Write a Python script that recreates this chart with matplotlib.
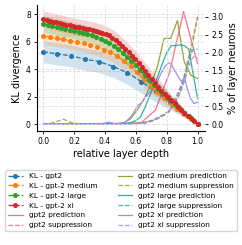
import numpy as np
import matplotlib
matplotlib.use('Agg')
import matplotlib.pyplot as plt

# KL divergence per layer (mean and spread)
kl_gpt2 = [5.28, 5.11, 4.97, 4.73, 4.55, 4.20, 3.75, 3.10, 2.40, 1.65, 0.85, 0.02]
kl_gpt2_err = [0.8, 0.8, 0.8, 0.8, 0.8, 0.8, 0.85, 0.85, 0.75, 0.55, 0.3, 0.02]

kl_medium = [6.38, 6.31, 6.24, 6.16, 6.07, 5.97, 5.87, 5.75, 5.60, 5.43, 5.22, 4.95,
             4.62, 4.22, 3.80, 3.32, 2.80, 2.35, 1.92, 1.52, 1.12, 0.74, 0.36, 0.02]
kl_medium_err = [0.6, 0.6, 0.6, 0.6, 0.6, 0.6, 0.6, 0.6, 0.6, 0.6, 0.6, 0.6,
                 0.6, 0.6, 0.6, 0.6, 0.55, 0.5, 0.45, 0.4, 0.3, 0.2, 0.1, 0.02]

kl_large = [7.30, 7.23, 7.16, 7.09, 7.02, 6.95, 6.88, 6.80, 6.72, 6.64, 6.55, 6.45,
            6.33, 6.20, 6.05, 5.88, 5.68, 5.45, 5.20, 4.92, 4.62, 4.30, 3.95, 3.58,
            3.20, 2.86, 2.55, 2.26, 1.98, 1.70, 1.42, 1.14, 0.86, 0.58, 0.30, 0.05]
kl_large_err = [0.6, 0.6, 0.6, 0.6, 0.6, 0.6, 0.6, 0.6, 0.6, 0.6, 0.6, 0.6,
                0.6, 0.6, 0.6, 0.6, 0.6, 0.6, 0.6, 0.6, 0.6, 0.6, 0.6, 0.6,
                0.6, 0.6, 0.55, 0.5, 0.45, 0.4, 0.35, 0.3, 0.25, 0.18, 0.1, 0.02]

kl_xl = [7.62, 7.58, 7.52, 7.46, 7.40, 7.35, 7.30, 7.24, 7.18, 7.13, 7.08, 7.04,
         6.99, 6.95, 6.90, 6.85, 6.80, 6.72, 6.64, 6.55, 6.45, 6.30, 6.12, 5.92,
         5.70, 5.48, 5.25, 4.98, 4.75, 4.48, 4.18, 3.88, 3.58, 3.28, 3.00, 2.72,
         2.46, 2.22, 1.98, 1.74, 1.52, 1.30, 1.08, 0.86, 0.64, 0.44, 0.22, 0.02]
kl_xl_err = [0.6, 0.6, 0.6, 0.6, 0.6, 0.6, 0.6, 0.6, 0.6, 0.6, 0.6, 0.6,
             0.6, 0.6, 0.6, 0.6, 0.6, 0.6, 0.6, 0.6, 0.6, 0.6, 0.6, 0.6,
             0.6, 0.6, 0.6, 0.6, 0.6, 0.6, 0.6, 0.6, 0.6, 0.6, 0.6, 0.6,
             0.55, 0.5, 0.46, 0.42, 0.38, 0.33, 0.28, 0.23, 0.18, 0.12, 0.07, 0.02]

# % of layer neurons: prediction / suppression
pred_gpt2 = [0.0, 0.0, 0.0, 0.0, 0.0, 0.01, 0.02, 0.05, 0.4, 1.45, 3.15, 1.7]
supp_gpt2 = [0.0, 0.0, 0.0, 0.0, 0.0, 0.0, 0.01, 0.03, 0.12, 0.35, 1.25, 3.0]

pred_medium = [0.0, 0.0, 0.0, 0.01, 0.01, 0.0, 0.0, 0.0, 0.0, 0.01, 0.02, 0.02,
               0.05, 0.15, 0.4, 0.7, 1.1, 1.6, 2.4, 2.4, 2.9, 1.75, 1.37, 1.28]
supp_medium = [0.0, 0.02, 0.08, 0.14, 0.06, 0.02, 0.01, 0.01, 0.01, 0.01, 0.01, 0.01,
               0.01, 0.01, 0.02, 0.05, 0.1, 0.18, 0.28, 0.42, 0.7, 1.2, 2.0, 3.0]

pred_large = [0.0, 0.0, 0.0, 0.0, 0.01, 0.01, 0.01, 0.01, 0.01, 0.01, 0.01, 0.02,
              0.02, 0.02, 0.01, 0.02, 0.02, 0.02, 0.02, 0.03, 0.05, 0.1, 0.2, 0.45,
              0.75, 1.05, 1.35, 1.7, 2.0, 2.2, 2.2, 2.22, 2.2, 2.1, 1.4, 0.72]
supp_large = [0.0, 0.0, 0.0, 0.0, 0.0, 0.0, 0.0, 0.0, 0.01, 0.01, 0.01, 0.01,
              0.01, 0.01, 0.01, 0.01, 0.01, 0.01, 0.01, 0.01, 0.02, 0.02, 0.03, 0.05,
              0.08, 0.12, 0.18, 0.22, 0.3, 0.45, 0.65, 0.95, 1.35, 1.8, 2.1, 2.1]

pred_xl = [0.0, 0.0, 0.0, 0.01, 0.01, 0.01, 0.01, 0.01, 0.01, 0.01, 0.01, 0.01,
           0.01, 0.01, 0.01, 0.01, 0.01, 0.02, 0.02, 0.04, 0.06, 0.03, 0.02, 0.02,
           0.03, 0.06, 0.15, 0.25, 0.4, 0.55, 0.6, 0.75, 0.85, 0.95, 1.05, 1.25,
           1.45, 1.6, 1.72, 1.68, 1.5, 1.35, 1.2, 1.3, 0.95, 0.7, 0.58, 0.62]
supp_xl = [0.0, 0.0, 0.0, 0.0, 0.0, 0.0, 0.0, 0.0, 0.01, 0.01, 0.01, 0.01,
           0.01, 0.01, 0.01, 0.01, 0.01, 0.01, 0.01, 0.01, 0.01, 0.01, 0.01, 0.01,
           0.01, 0.01, 0.01, 0.02, 0.02, 0.02, 0.02, 0.03, 0.05, 0.08, 0.12, 0.18,
           0.22, 0.28, 0.35, 0.45, 0.6, 0.75, 0.95, 1.2, 1.5, 1.8, 1.9, 1.85]

kl_names = ['KL - gpt2', 'KL - gpt-2 medium', 'KL - gpt-2 large', 'KL - gpt-2 xl']
model_names = ['gpt2', 'gpt2 medium', 'gpt2 large', 'gpt2 xl']
kl_colors = ['tab:blue', 'tab:orange', 'tab:green', 'tab:red']
neuron_colors = ['#f77189', '#97a431', '#36ada4', '#a48cf4']

kl_means = [kl_gpt2, kl_medium, kl_large, kl_xl]
kl_errs = [kl_gpt2_err, kl_medium_err, kl_large_err, kl_xl_err]
preds = [pred_gpt2, pred_medium, pred_large, pred_xl]
supps = [supp_gpt2, supp_medium, supp_large, supp_xl]

fig = plt.figure(figsize=(2.42, 2.45), dpi=100)
ax = fig.add_axes([0.153, 0.465, 0.694, 0.514])
ax2 = ax.twinx()

for name, mean, err, c in zip(kl_names, kl_means, kl_errs, kl_colors):
    mean = np.array(mean)
    err = np.array(err)
    x = np.linspace(0, 1, len(mean))
    ax.fill_between(x, mean - err, mean + err, color=c, alpha=0.2, lw=0)
    ax.plot(x, mean, '--', color=c, marker='o', markersize=2.6, lw=0.9, label=name)

for name, p, s, c in zip(model_names, preds, supps, neuron_colors):
    x = np.linspace(0, 1, len(p))
    ax2.plot(x, p, '-', color=c, lw=0.9, label=name + ' prediction')
    ax2.plot(x, s, '--', color=c, lw=0.9, alpha=0.9, label=name + ' suppression')

ax.set_zorder(ax2.get_zorder() + 1)
ax.patch.set_visible(False)

ax.set_xlim(-0.041, 1.048)
ax.set_ylim(-0.48, 8.65)
ax2.set_ylim(-0.19, 3.33)
ax.set_xticks([0.0, 0.2, 0.4, 0.6, 0.8, 1.0])
ax.set_yticks([0, 2, 4, 6, 8])
ax2.set_yticks([0.0, 0.5, 1.0, 1.5, 2.0, 2.5, 3.0])

ax.grid(True, ls='--', color='#dddddd', lw=0.6)
ax2.grid(True, ls='--', color='#dddddd', lw=0.6)
ax2.set_axisbelow(True)

for a in (ax, ax2):
    a.spines['top'].set_visible(False)
    a.spines['right'].set_visible(False)
ax2.spines['left'].set_visible(False)
ax2.spines['bottom'].set_visible(False)

ax.tick_params(labelsize=5.5, length=2.5, width=0.6, pad=2)
ax2.tick_params(labelsize=5.5, length=2.5, width=0.6, pad=2)
ax.set_xlabel('relative layer depth', fontsize=7, labelpad=2)
ax.set_ylabel('KL divergence', fontsize=7, labelpad=3)
ax2.set_ylabel('% of layer neurons', fontsize=7, labelpad=3)

h1, l1 = ax.get_legend_handles_labels()
h2, l2 = ax2.get_legend_handles_labels()
fig.legend(h1 + h2, l1 + l2, loc='upper left', ncol=2, fontsize=5.3,
           bbox_to_anchor=(0.021, 0.02, 0.958, 0.286), mode='expand',
           handlelength=2.0, labelspacing=0.5, borderaxespad=0.0,
           columnspacing=1.0, handletextpad=0.8)

fig.savefig('out.png', dpi=100)
